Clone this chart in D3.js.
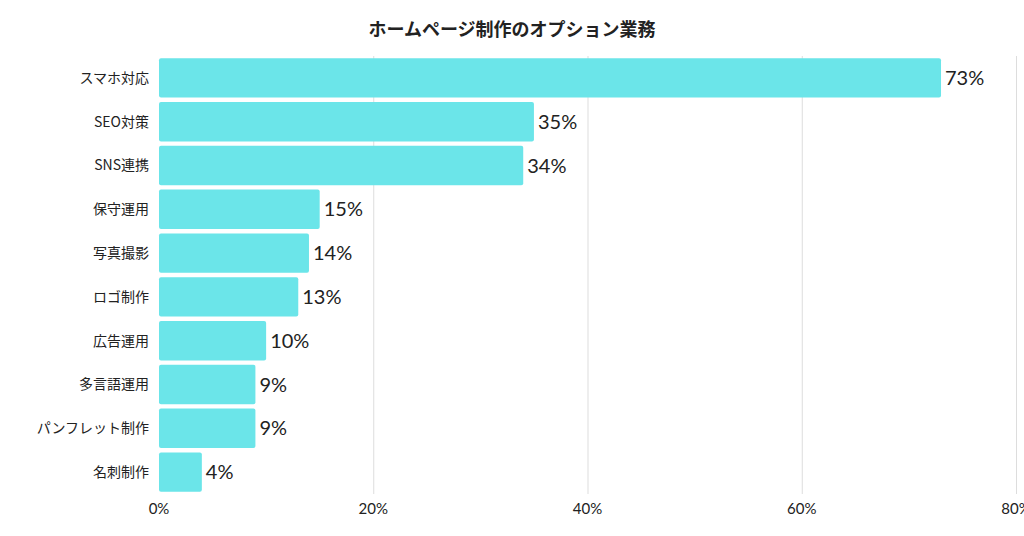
<!DOCTYPE html>
<html><head><meta charset="utf-8">
<script src="https://cdn.jsdelivr.net/npm/d3@7"></script>
<style>
body { margin: 0; background: #fff; }
text { font-family: "Noto Sans CJK JP", Lato, sans-serif; fill: #222; }
.grid line { stroke: #ddd; }
.grid path { display: none; }
</style></head>
<body><svg id="chart" width="1024" height="536"></svg>
<script>
const categories = ['スマホ対応', 'SEO対策', 'SNS連携', '保守運用', '写真撮影', 'ロゴ制作', '広告運用', '多言語運用', 'パンフレット制作', '名刺制作'];
const values = [73, 35, 34, 15, 14, 13, 10, 9, 9, 4];
const xTicks = [0, 20, 40, 60, 80];

const svg = d3.select('#chart');
const plotLeft = 159, plotRight = 1016, plotTop = 56, plotBottom = 494;

const x = d3.scaleLinear().domain([0, 80]).range([plotLeft, plotRight]);
const y = d3.scaleBand().domain(categories).range([plotTop, plotBottom]).paddingInner(0.1).paddingOuter(0.05);

svg.append('text')
  .attr('x', 512).attr('y', 36).attr('text-anchor', 'middle')
  .style('font-size', '18px').style('font-weight', 'bold')
  .text('ホームページ制作のオプション業務');

// vertical grid
svg.append('g').attr('class', 'grid')
  .attr('transform', `translate(0,${plotTop})`)
  .call(d3.axisBottom(x).tickValues(xTicks.slice(1)).tickSize(plotBottom - plotTop).tickFormat(''));

svg.append('g').selectAll('rect').data(values).join('rect')
  .attr('x', x(0))
  .attr('y', (d, i) => y(categories[i]))
  .attr('width', d => x(d) - x(0))
  .attr('height', y.bandwidth())
  .attr('rx', 2)
  .attr('fill', '#6be5e9');

svg.append('g').selectAll('text').data(values).join('text')
  .attr('x', d => x(d) + 4)
  .attr('y', (d, i) => y(categories[i]) + y.bandwidth() / 2)
  .attr('dy', '0.35em')
  .style('font-family', 'Lato, sans-serif')
  .style('font-size', '20px')
  .text(d => d + '%');

svg.append('g').selectAll('text').data(categories).join('text')
  .attr('x', plotLeft - 10)
  .attr('y', d => y(d) + y.bandwidth() / 2)
  .attr('dy', '0.35em')
  .attr('text-anchor', 'end')
  .style('font-size', '14px')
  .text(d => d);

svg.append('g').selectAll('text').data(xTicks).join('text')
  .attr('x', d => x(d))
  .attr('y', 514)
  .attr('text-anchor', 'middle')
  .style('font-family', 'Lato, sans-serif')
  .style('font-size', '15px')
  .text(d => d + '%');
</script></body></html>
